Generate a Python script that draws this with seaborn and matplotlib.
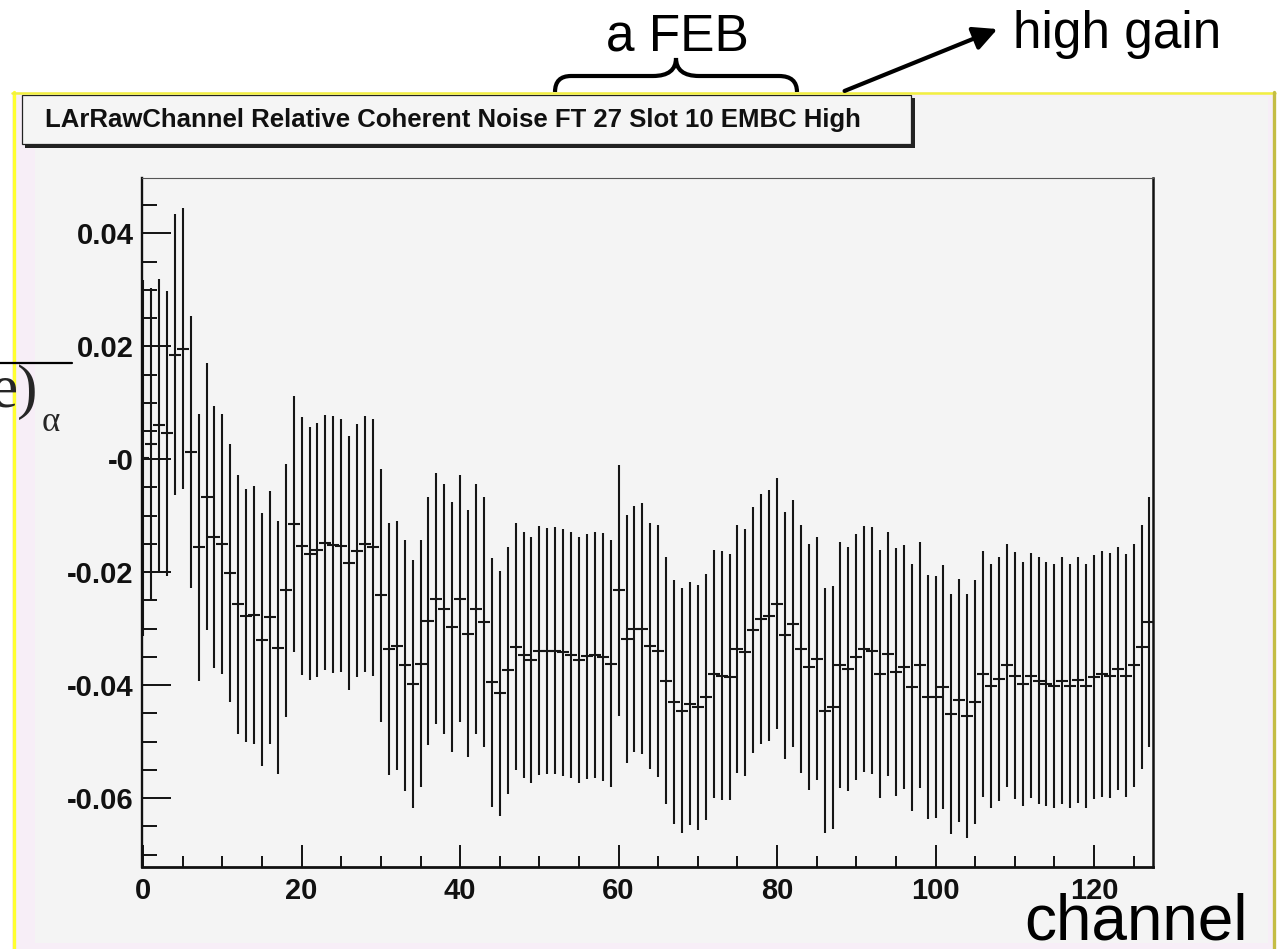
import numpy as np
import pandas as pd
import matplotlib
matplotlib.use("Agg")
import matplotlib.pyplot as plt
import seaborn as sns
from matplotlib.patches import Rectangle, PathPatch
from matplotlib.path import Path
from matplotlib.ticker import MultipleLocator

# relative coherent noise per channel (value and symmetric error)
noise = [
    0.0002, 0.0027, 0.0060, 0.0046, 0.0185, 0.0196, 0.0013, -0.0156, -0.0066, -0.0138,
    -0.0150, -0.0201, -0.0257, -0.0277, -0.0276, -0.0320, -0.0280, -0.0334, -0.0232, -0.0115,
    -0.0154, -0.0167, -0.0160, -0.0148, -0.0151, -0.0153, -0.0183, -0.0162, -0.0150, -0.0156,
    -0.0241, -0.0336, -0.0330, -0.0365, -0.0398, -0.0362, -0.0286, -0.0247, -0.0265, -0.0297,
    -0.0247, -0.0309, -0.0265, -0.0288, -0.0395, -0.0414, -0.0374, -0.0332, -0.0346, -0.0355,
    -0.0339, -0.0340, -0.0339, -0.0342, -0.0347, -0.0355, -0.0349, -0.0347, -0.0350, -0.0362,
    -0.0232, -0.0318, -0.0300, -0.0300, -0.0330, -0.0339, -0.0392, -0.0430, -0.0445, -0.0433,
    -0.0439, -0.0421, -0.0380, -0.0383, -0.0386, -0.0336, -0.0342, -0.0303, -0.0283, -0.0277,
    -0.0256, -0.0312, -0.0291, -0.0336, -0.0368, -0.0353, -0.0445, -0.0439, -0.0365, -0.0371,
    -0.0350, -0.0336, -0.0339, -0.0380, -0.0345, -0.0377, -0.0368, -0.0404, -0.0365, -0.0421,
    -0.0421, -0.0404, -0.0451, -0.0427, -0.0454, -0.0430, -0.0380, -0.0401, -0.0389, -0.0365,
    -0.0383, -0.0398, -0.0383, -0.0392, -0.0398, -0.0401, -0.0392, -0.0401, -0.0391, -0.0401,
    -0.0386, -0.0380, -0.0383, -0.0371, -0.0383, -0.0365, -0.0333, -0.0288,
]
noise_err = [
    0.0315, 0.0276, 0.0260, 0.0252, 0.0249, 0.0248, 0.0241, 0.0236, 0.0237, 0.0232,
    0.0230, 0.0228, 0.0229, 0.0224, 0.0228, 0.0224, 0.0224, 0.0224, 0.0224, 0.0227,
    0.0228, 0.0224, 0.0225, 0.0226, 0.0227, 0.0224, 0.0225, 0.0224, 0.0226, 0.0227,
    0.0224, 0.0223, 0.0221, 0.0222, 0.0220, 0.0219, 0.0220, 0.0222, 0.0221, 0.0222,
    0.0219, 0.0219, 0.0221, 0.0221, 0.0220, 0.0217, 0.0219, 0.0219, 0.0218, 0.0218,
    0.0220, 0.0218, 0.0219, 0.0219, 0.0218, 0.0218, 0.0217, 0.0218, 0.0219, 0.0219,
    0.0222, 0.0219, 0.0218, 0.0222, 0.0218, 0.0223, 0.0219, 0.0216, 0.0217, 0.0215,
    0.0217, 0.0218, 0.0220, 0.0220, 0.0218, 0.0219, 0.0219, 0.0218, 0.0222, 0.0222,
    0.0222, 0.0218, 0.0218, 0.0219, 0.0218, 0.0215, 0.0217, 0.0215, 0.0218, 0.0216,
    0.0218, 0.0217, 0.0219, 0.0220, 0.0216, 0.0219, 0.0216, 0.0219, 0.0218, 0.0216,
    0.0215, 0.0216, 0.0213, 0.0215, 0.0216, 0.0216, 0.0218, 0.0216, 0.0216, 0.0215,
    0.0218, 0.0216, 0.0217, 0.0219, 0.0216, 0.0216, 0.0219, 0.0216, 0.0218, 0.0216,
    0.0216, 0.0218, 0.0217, 0.0215, 0.0215, 0.0215, 0.0216, 0.0222,
]
channel = list(range(len(noise)))

y_ticks = [-0.06, -0.04, -0.02, 0.0, 0.02, 0.04]
y_labels = ["-0.06", "-0.04", "-0.02", "-0", "0.02", "0.04"]
x_ticks = [0, 20, 40, 60, 80, 100, 120]

title = "LArRawChannel Relative Coherent Noise FT 27 Slot 10 EMBC High"

sns.set_style("ticks")
plt.rcParams["font.family"] = ["Liberation Sans", "DejaVu Sans"]

W, H = 1279, 949
fig = plt.figure(figsize=(W / 100, H / 100), dpi=100)
fig.patch.set_facecolor("white")

# background "canvas" drawn in pixel coordinates
bg = fig.add_axes([0, 0, 1, 1], zorder=0)
bg.set_xlim(0, W)
bg.set_ylim(H, 0)
bg.axis("off")
bg.add_patch(Rectangle((12, 92), 1263, 860, facecolor="#f7eef7", edgecolor="none"))
bg.add_patch(Rectangle((35, 97), 1233, 846, facecolor="#f4f4f4", edgecolor="none"))
bg.plot([13.5, 13.5], [92, 949], color="#ffff2e", lw=2.4)
bg.plot([12, 1275], [93, 93], color="#f2f040", lw=1.8)
bg.plot([1273.5, 1273.5], [92, 949], color="#c4bd45", lw=2.4)

# title box with shadow
bg.add_patch(Rectangle((25, 98), 890, 50, facecolor="#222222", edgecolor="none"))
bg.add_patch(Rectangle((22, 95), 889, 49, facecolor="#f5f5f5", edgecolor="#222222", lw=0.9))
bg.text(45, 120, title, fontsize=18.5, fontweight="bold", ha="left", va="center", color="#111111")

# annotations above the canvas
bg.text(606, 50, "a FEB", fontsize=37, ha="left", va="baseline", color="black")
bg.text(1013, 48, "high gain", fontsize=37, ha="left", va="baseline", color="black")
brace = Path(
    [(555, 92), (555, 76), (571, 76), (653, 76), (676, 76), (676, 58),
     (676, 76), (699, 76), (779, 76), (797, 76), (797, 92)],
    [Path.MOVETO, Path.CURVE3, Path.CURVE3, Path.LINETO, Path.CURVE3, Path.CURVE3,
     Path.CURVE3, Path.CURVE3, Path.LINETO, Path.CURVE3, Path.CURVE3],
)
bg.add_patch(PathPatch(brace, facecolor="none", edgecolor="black", lw=3))
bg.annotate("", xy=(1000, 28), xytext=(842, 92),
            arrowprops=dict(arrowstyle="-|>", lw=3, color="black", mutation_scale=36))

# cut-off y label on the left
bg.plot([0, 72], [363, 363], color="black", lw=1.6)
bg.text(38, 407, "e)", fontsize=44, family="Liberation Serif", ha="right", va="baseline")
bg.text(42, 431, "\u03b1", fontsize=25, family="Liberation Serif", ha="left", va="baseline")
bg.text(1024, 940, "channel", fontsize=46, ha="left", va="baseline", color="black")

# main frame
ax = fig.add_axes([142 / W, 1 - 867 / H, (1153 - 142) / W, (867 - 178) / H], zorder=2)
ax.set_facecolor("#f4f4f4")

df = pd.DataFrame({"channel": channel, "noise": noise, "err": noise_err})
ax.errorbar(df["channel"], df["noise"], yerr=df["err"], fmt="none",
            ecolor="#151515", elinewidth=1.5, capsize=0, zorder=2)
sns.scatterplot(data=df, x="channel", y="noise", marker="_", s=70,
                color="#151515", linewidth=1.5, ax=ax, zorder=3)

ax.set_xlim(-0.15, 127.45)
ax.set_ylim(-0.0722, 0.0498)
ax.set_xlabel("")
ax.set_ylabel("")

ax.set_xticks(x_ticks)
ax.set_xticklabels([str(t) for t in x_ticks])
ax.xaxis.set_minor_locator(MultipleLocator(5))
ax.set_yticks(y_ticks)
ax.set_yticklabels(y_labels)
ax.yaxis.set_minor_locator(MultipleLocator(0.005))

ax.tick_params(axis="y", which="major", direction="in", length=21, width=1.4,
               labelsize=21, pad=6, color="#111111")
ax.tick_params(axis="y", which="minor", direction="in", length=10.5, width=1.4, color="#111111")
ax.tick_params(axis="x", which="major", direction="in", length=15.5, width=1.4,
               labelsize=21, pad=7, color="#111111")
ax.tick_params(axis="x", which="minor", direction="in", length=8, width=1.4, color="#111111")
for lab in ax.get_xticklabels() + ax.get_yticklabels():
    lab.set_fontweight("bold")
    lab.set_color("#111111")

ax.spines["left"].set_linewidth(1.7)
ax.spines["bottom"].set_linewidth(2.0)
ax.spines["right"].set_linewidth(1.8)
ax.spines["top"].set_linewidth(0.8)
ax.spines["top"].set_color("#555555")
for s in ["left", "bottom", "right"]:
    ax.spines[s].set_color("#111111")

fig.savefig("out.png", dpi=100, facecolor=fig.get_facecolor())
